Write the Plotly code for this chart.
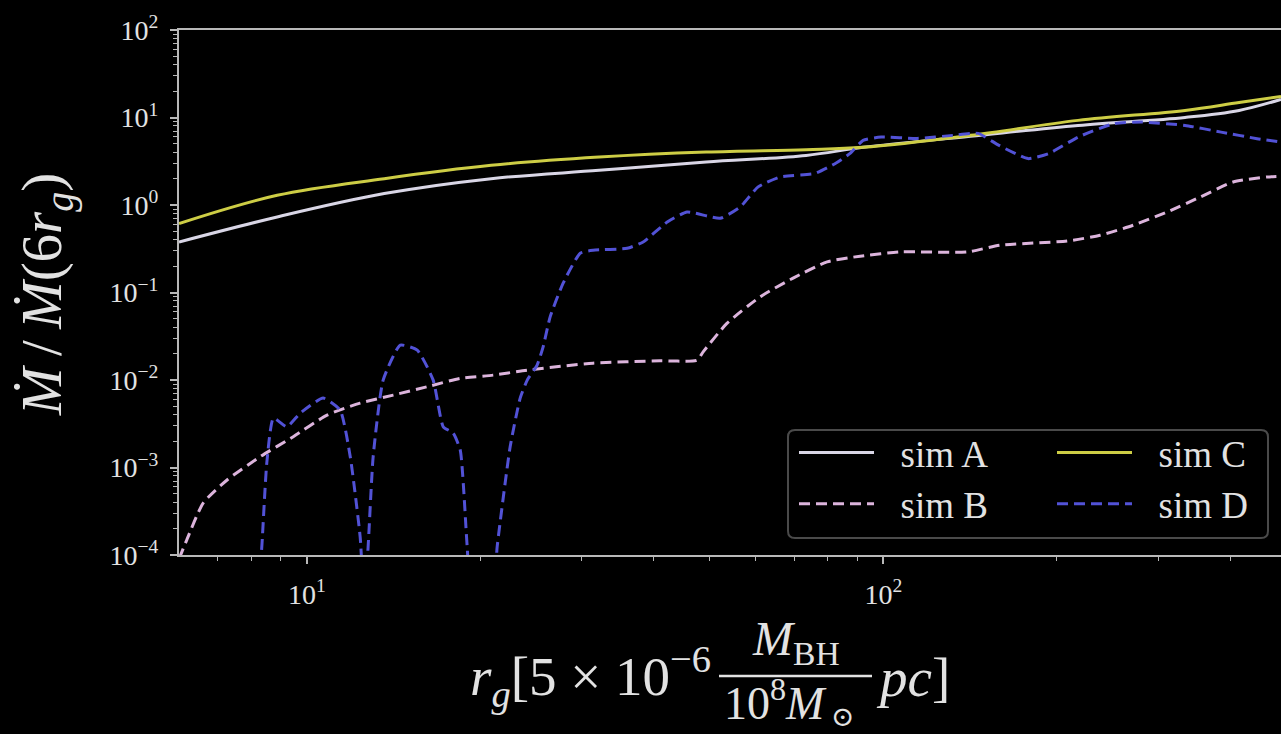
import math
import plotly.graph_objects as go

# ---- data: accretion-rate ratio versus radius (in r_g) ----
r_A = [6.0, 8.88, 13.62, 20.87, 32.13, 49.27, 73.44, 92.2, 141.4, 217.6, 333.6, 414.0, 489.4]
mdot_A = [0.378, 0.730, 1.35, 2.00, 2.49, 3.10, 3.69, 4.56, 6.1, 8.12, 10.03, 12.05, 16.1]

r_C = [6.0, 8.88, 13.62, 20.87, 32.13, 49.27, 73.44, 92.2, 141.4, 217.6, 333.6, 414.0, 489.4]
mdot_C = [0.613, 1.29, 2.00, 2.84, 3.53, 4.03, 4.29, 4.56, 6.25, 9.27, 12.05, 14.87, 17.4]

r_B = [6.0, 6.19, 6.61, 7.27, 8.30, 9.47, 10.84, 12.37, 14.12, 16.17, 18.45, 21.04,
       24.11, 31.36, 41.00, 47.52, 48.68, 53.57, 61.12, 69.72, 79.88, 91.13, 106.9,
       139.7, 159.4, 208.3, 237.6, 271.1, 310.5, 354.2, 404.2, 463.0, 489.4]
mdot_B = [9.0e-5, 1.49e-4, 3.93e-4, 7.2e-4, 1.33e-3, 2.25e-3, 3.97e-3, 5.45e-3, 6.72e-3,
          8.37e-3, 1.043e-2, 1.137e-2, 1.297e-2, 1.559e-2, 1.657e-2, 1.688e-2, 2.10e-2,
          4.46e-2, 8.91e-2, 0.146, 0.224, 0.260, 0.291, 0.291, 0.347, 0.388, 0.451, 0.587,
          0.832, 1.23, 1.83, 2.09, 2.13]

r_D = [8.23, 8.36, 8.52, 8.75, 9.23, 9.74, 10.67, 11.42, 11.89, 12.37, 12.57, 12.77,
       13.03, 13.56, 14.52, 15.54, 16.56, 17.24, 17.93, 18.45, 18.97, 19.35, 20.96, 21.38,
       22.52, 23.44, 24.11, 25.08, 25.69, 26.42, 27.83, 29.79, 31.36, 35.94, 38.31, 42.17,
       45.66, 52.10, 56.43, 60.63, 66.22, 76.13, 82.79, 87.54, 92.2, 99.1, 114.4, 132.1,
       146.0, 158.7, 178.2, 193.8, 217.6, 251.2, 281.0, 333.6, 385.2, 444.8, 489.4]
mdot_D = [3e-5, 1.37e-4, 1.13e-3, 3.67e-3, 2.92e-3, 4.19e-3, 6.21e-3, 4.53e-3, 1.33e-3,
          1.61e-4, 3e-5, 1.24e-4, 1.33e-3, 9.97e-3, 2.50e-2, 2.19e-2, 9.97e-3, 2.92e-3,
          2.48e-3, 1.58e-3, 1.24e-4, 3e-5, 3e-5, 1.24e-4, 1.73e-3, 6.21e-3, 9.97e-3,
          1.48e-2, 2.39e-2, 5.27e-2, 0.128, 0.281, 0.304, 0.320, 0.378, 0.639, 0.832,
          0.705, 0.949, 1.61, 2.09, 2.30, 3.02, 3.89, 5.48, 5.97, 5.77, 6.25, 6.58, 4.80,
          3.39, 3.89, 5.97, 8.50, 8.86, 8.12, 6.81, 5.73, 5.24]

names = ["sim A", "sim B", "sim C", "sim D"]
colors = ["#d9d6e6", "#dcb4dc", "#cdcd45", "#5252d6"]

y_tick_vals = [1e-4, 1e-3, 1e-2, 1e-1, 1e0, 1e1, 1e2]
y_tick_text = ["10<sup>\u22124</sup>", "10<sup>\u22123</sup>", "10<sup>\u22122</sup>",
               "10<sup>\u22121</sup>", "10<sup>0</sup>", "10<sup>1</sup>", "10<sup>2</sup>"]
x_tick_vals = [10, 100]
x_tick_text = ["10<sup>1</sup>", "10<sup>2</sup>"]

X_RANGE = (6.0, 489.4)
Y_RANGE = (1e-4, 1e2)

# ---- figure geometry ----
W, H = 1281, 734
L, R, T, B = 179, 0, 30, 179
PW = W - L - R
PH = H - T - B
SERIF = "Liberation Serif, DejaVu Serif, serif"
FG = "#e2e2e2"
AX = "#b8b8b8"


def px(x):
    return (x - L) / PW


def py(y):
    return (T + PH - y) / PH


x_minor = [k * 10 ** d for d in (0, 1, 2) for k in range(2, 10)
           if X_RANGE[0] < k * 10 ** d < X_RANGE[1]]
y_minor = [k * 10 ** d for d in range(-4, 2) for k in range(2, 10)]

fig = go.Figure()

# legend labels get a small lead-in gap after the line sample
GAP = "\u2002\u200a"
series = [
    (r_A, mdot_A, 0, "solid", 1.0, "legend"),
    (r_B, mdot_B, 1, "11px,6px", 0.6, "legend"),
    (r_C, mdot_C, 2, "solid", 1.0, "legend2"),
    (r_D, mdot_D, 3, "11px,6px", 0.5, "legend2"),
]
for xs, ys, i, dash, smooth, leg in series:
    fig.add_trace(go.Scatter(
        x=xs, y=ys, mode="lines", name=GAP + names[i], legend=leg,
        line=dict(color=colors[i], width=3, dash=dash, shape="spline", smoothing=smooth),
    ))

axis_common = dict(
    showgrid=False, zeroline=False, showline=True, linecolor=AX, linewidth=2,
    ticks="outside", ticklen=7, tickwidth=1.5, tickcolor=AX,
    tickfont=dict(family=SERIF, size=28, color=FG),
)

fig.update_xaxes(
    type="log", range=[math.log10(X_RANGE[0]), math.log10(X_RANGE[1])],
    tickmode="array", tickvals=x_tick_vals, ticktext=x_tick_text, mirror=True,
    ticklabelstandoff=6,
    minor=dict(tickmode="array", tickvals=x_minor, ticks="outside", ticklen=4,
               tickwidth=1, tickcolor=AX),
    **axis_common,
)
fig.update_yaxes(
    type="log", range=[math.log10(Y_RANGE[0]), math.log10(Y_RANGE[1])],
    tickmode="array", tickvals=y_tick_vals, ticktext=y_tick_text,
    ticklabelstandoff=6,
    minor=dict(tickmode="array", tickvals=y_minor, ticks="outside", ticklen=4,
               tickwidth=1, tickcolor=AX),
    **axis_common,
)

legend_common = dict(
    xanchor="left", yanchor="top", bgcolor="rgba(0,0,0,0)", borderwidth=0,
    font=dict(family=SERIF, size=37, color=FG), itemwidth=75,
    tracegroupgap=0, traceorder="normal",
)

# rounded frame around both legend columns
x0, x1 = px(788), px(1268)
y0, y1 = py(538), py(430)
rx, ry = 7 / PW, 7 / PH
frame = (f"M{x0 + rx},{y1} L{x1 - rx},{y1} Q{x1},{y1} {x1},{y1 - ry} "
         f"L{x1},{y0 + ry} Q{x1},{y0} {x1 - rx},{y0} L{x0 + rx},{y0} "
         f"Q{x0},{y0} {x0},{y0 + ry} L{x0},{y1 - ry} Q{x0},{y1} {x0 + rx},{y1} Z")

# axis titles; the x label carries a stacked fraction
ytitle_font = dict(family=SERIF, size=57, color=FG)
xtitle_font = dict(family=SERIF, size=55, color=FG)
num_font = dict(family=SERIF, size=48, color=FG)
den_font = dict(family=SERIF, size=46, color=FG)
sun_font = dict(family=SERIF, size=28, color=FG)
annotations = [
    dict(text="<i>\u1E40</i>\u2009/\u2009<i>\u1E40</i>(6<i>r</i><sub><i>g</i></sub>)",
         x=px(46), y=py(295), xref="paper", yref="paper", textangle=-90,
         showarrow=False, font=ytitle_font, xanchor="center", yanchor="middle"),
    dict(text="<i>r</i><sub><i>g</i></sub>[5 \u00D7 10<sup>\u22126</sup>",
         x=px(713), y=py(676), xref="paper", yref="paper", showarrow=False,
         font=xtitle_font, xanchor="right", yanchor="middle"),
    dict(text="<i>M</i><sub>BH</sub>",
         x=px(796), y=py(642), xref="paper", yref="paper", showarrow=False,
         font=num_font, xanchor="center", yanchor="middle"),
    dict(text="10<sup>8</sup><i>M</i>",
         x=px(829), y=py(700), xref="paper", yref="paper", showarrow=False,
         font=den_font, xanchor="right", yanchor="middle"),
    dict(text="\u2299",
         x=px(829), y=py(716), xref="paper", yref="paper", showarrow=False,
         font=sun_font, xanchor="left", yanchor="middle"),
    dict(text="<i>pc</i>]",
         x=px(874), y=py(677), xref="paper", yref="paper", showarrow=False,
         font=xtitle_font, xanchor="left", yanchor="middle"),
]

shapes = [
    dict(type="path", path=frame, xref="paper", yref="paper",
         line=dict(color="#4a4a4a", width=2), fillcolor="#000000", layer="above"),
    dict(type="line", x0=px(719), x1=px(872), y0=py(676), y1=py(676),
         xref="paper", yref="paper", line=dict(color=FG, width=2.5)),
]

fig.update_layout(
    width=W, height=H,
    margin=dict(l=L, r=R, t=T, b=B, pad=0),
    paper_bgcolor="#000000", plot_bgcolor="#000000",
    font=dict(family=SERIF, color=FG),
    showlegend=True,
    legend=dict(x=px(794), y=py(422), **legend_common),
    legend2=dict(x=px(1052), y=py(422), **legend_common),
    annotations=annotations,
    shapes=shapes,
)

fig.write_html("out.html")
